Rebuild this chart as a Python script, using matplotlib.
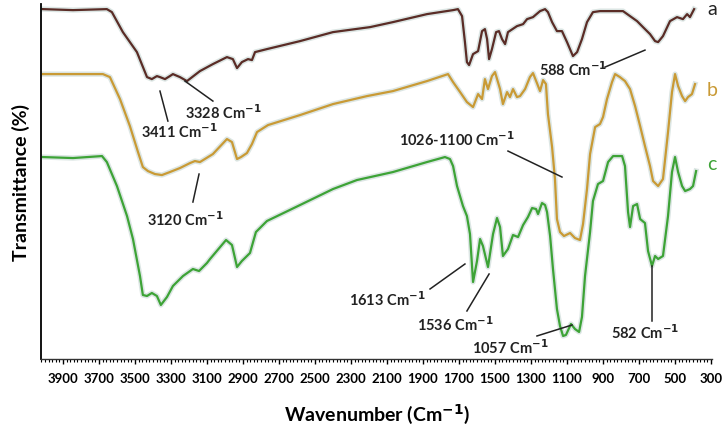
import matplotlib

matplotlib.use("Agg")
import matplotlib.pyplot as plt
import matplotlib.patheffects as pe
from matplotlib.ticker import MultipleLocator

plt.rcParams["font.family"] = ["Lato", "DejaVu Sans"]

# spectrum a (wavenumber, transmittance in arbitrary units)
wn_a = [4011, 3844, 3656, 3628, 3567, 3489, 3433, 3406, 3378, 3361, 3333, 3306, 3289, 3250,
        3211, 3139, 3067, 2989, 2956, 2933, 2906, 2872, 2850, 2833, 2767, 2583, 2400, 2194,
        2067, 1878, 1733, 1706, 1683, 1667, 1656, 1644, 1622, 1594, 1572, 1556, 1544, 1533,
        1517, 1494, 1478, 1461, 1444, 1428, 1378, 1344, 1322, 1289, 1250, 1222, 1206, 1183,
        1156, 1128, 1100, 1067, 1044, 1017, 989, 956, 917, 844, 789, 750, 711, 678, 639, 611,
        594, 567, 528, 489, 456, 433, 417, 394]
tr_a = [350, 349, 350, 347, 327, 307, 282, 280, 283, 282, 280, 283, 285, 282,
        278, 288, 295, 302, 300, 291, 297, 300, 299, 307, 310, 318, 327, 332,
        337, 345, 349, 350, 343, 317, 297, 294, 305, 308, 328, 330, 320, 300,
        310, 327, 328, 320, 315, 327, 333, 335, 340, 342, 348, 350, 347, 337,
        328, 328, 317, 303, 307, 320, 337, 347, 348, 348, 348, 343, 338, 332, 325, 318,
        317, 323, 338, 342, 340, 345, 342, 350]

# spectrum b
wn_b = [4011, 3678, 3639, 3583, 3528, 3483, 3456, 3428, 3389, 3350, 3306, 3250, 3194, 3167,
        3139, 3067, 2989, 2961, 2933, 2911, 2878, 2850, 2822, 2761, 2583, 2400, 2211, 2067,
        1878, 1761, 1733, 1694, 1656, 1622, 1594, 1572, 1556, 1539, 1517, 1500, 1472, 1456,
        1433, 1417, 1400, 1378, 1361, 1333, 1306, 1289, 1267, 1250, 1233, 1217, 1206, 1183,
        1167, 1156, 1139, 1117, 1083, 1056, 1028, 1011, 989, 972, 944, 917, 900, 878, 850,
        833, 806, 778, 750, 722, 694, 667, 639, 622, 594, 567, 539, 517, 500, 483, 461, 444,
        428, 406, 389]
tr_b = [285, 285, 282, 260, 233, 207, 192, 188, 185, 184, 187, 191, 196, 198,
        197, 205, 220, 217, 200, 202, 206, 215, 227, 234, 244, 255, 263, 268,
        278, 285, 277, 267, 257, 252, 265, 260, 280, 270, 283, 287, 270, 255,
        267, 262, 270, 262, 263, 270, 282, 286, 276, 268, 279, 275, 245, 212,
        180, 140, 127, 123, 126, 121, 119, 135, 170, 205, 232, 235, 242, 260, 277,
        285, 282, 278, 270, 253, 233, 213, 193, 178, 173, 180, 227, 267, 285, 273, 263, 258,
        262, 265, 275]

# spectrum c
wn_c = [4011, 3844, 3683, 3656, 3600, 3544, 3511, 3472, 3456, 3433, 3406, 3378, 3356, 3322,
        3289, 3233, 3178, 3144, 3100, 3083, 2994, 2961, 2933, 2906, 2861, 2828, 2767, 2583,
        2400, 2267, 2067, 1878, 1778, 1750, 1733, 1711, 1678, 1656, 1639, 1622, 1600, 1583,
        1567, 1539, 1511, 1489, 1472, 1456, 1428, 1400, 1372, 1344, 1317, 1294, 1272, 1261,
        1239, 1222, 1211, 1194, 1178, 1156, 1139, 1122, 1106, 1078, 1056, 1033, 1017, 1000,
        972, 956, 928, 900, 872, 844, 794, 778, 761, 750, 733, 711, 694, 667, 650, 628, 611,
        594, 567, 539, 517, 500, 483, 461, 444, 417, 400, 383]
tr_c = [202, 201, 203, 197, 173, 143, 120, 83, 64, 63, 66, 63, 54, 62,
        73, 83, 90, 88, 96, 100, 119, 114, 92, 98, 106, 127, 138, 154,
        170, 179, 187, 197, 202, 200, 193, 173, 153, 143, 125, 77, 98, 120,
        113, 92, 125, 141, 132, 103, 110, 124, 122, 134, 142, 151, 150, 145,
        156, 154, 147, 123, 90, 50, 33, 23, 24, 35, 30, 27, 42, 83,
        127, 158, 175, 178, 197, 203, 203, 193, 147, 132, 153, 155, 140, 136, 108, 93, 103,
        100, 103, 143, 187, 202, 187, 173, 168, 170, 173, 188]

series = [
    (wn_a, tr_a, "#5a2c26", "a", 351),
    (wn_b, tr_b, "#c99a35", "b", 270),
    (wn_c, tr_c, "#3da336", "c", 196),
]

# label text, text position, line start, line end
peaks = [
    ("3411", (3256, 228), (3361, 268), (3317, 238)),
    ("3328", (3011, 247), (3222, 278), (3067, 258)),
    ("3120", (3222, 140), (3144, 185), (3178, 157)),
    ("588", (1067, 290), (889, 292), (667, 309)),
    ("1026-1100", (1711, 220), (1428, 208), (1128, 182)),
    ("1613", (2100, 60), (1861, 70), (1667, 95)),
    ("1536", (1722, 35), (1656, 48), (1533, 85)),
    ("1057", (1417, 12), (1267, 23), (1072, 34)),
    ("582", (667, 27), (628, 38), (628, 93)),
]
unit = r" Cm$^{\mathbf{-1}}$"

fig = plt.figure(figsize=(7.25, 4.27), dpi=100)
ax = fig.add_axes([0.057, 0.157, 0.925, 0.831])

halo = [pe.Stroke(linewidth=3.8, foreground="#dce6e4"), pe.Normal()]
for wn, tr, color, tag, ty in series:
    ax.plot(wn, tr, color=color, linewidth=1.6, path_effects=halo, solid_joinstyle="round")
    ax.text(1.0, ty, tag, color=color if tag != "a" else "#222222", fontsize=14,
            transform=ax.get_yaxis_transform(), ha="center", va="center", clip_on=False)

for text, pos, p0, p1 in peaks:
    ax.plot([p0[0], p1[0]], [p0[1], p1[1]], color="#222222", linewidth=1.1)
    ax.text(pos[0], pos[1], text + unit, fontsize=10.5, fontweight="bold", color="#222222",
            ha="center", va="center")

ax.set_xlim(4020, 295)
ax.set_ylim(0, 355)
ax.xaxis.set_minor_locator(MultipleLocator(20))
ax.set_xticks(range(300, 4000, 200))
ax.tick_params(axis="x", which="major", length=3.5, width=1.0, pad=6, labelsize=9.5)
ax.tick_params(axis="x", which="minor", length=2, width=0.8)
for lab in ax.get_xticklabels():
    lab.set_fontweight("bold")
ax.set_yticks([])
ax.spines[["top", "right"]].set_visible(False)
ax.spines["left"].set_linewidth(1.3)
ax.spines["bottom"].set_linewidth(1.0)
ax.spines["bottom"].set_color("#333333")

ax.set_xlabel(r"Wavenumber (Cm$^{\mathbf{-1}}$)", fontsize=14, fontweight="bold", labelpad=12)
ax.set_ylabel("Transmittance (%)", fontsize=14, fontweight="bold", labelpad=8)

fig.savefig("out.png", dpi=100)
